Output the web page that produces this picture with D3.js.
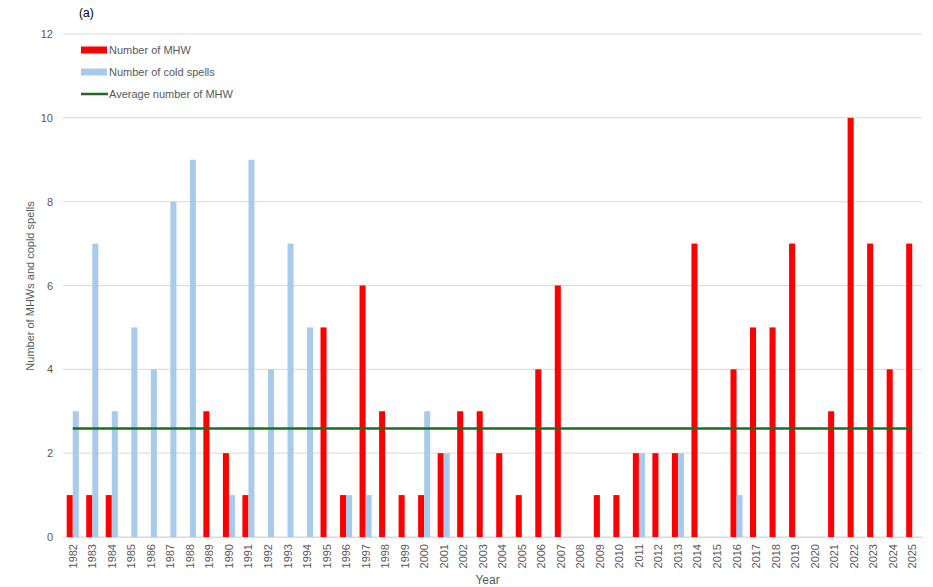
<!DOCTYPE html>
<html>
<head>
<meta charset="utf-8">
<script src="https://cdn.jsdelivr.net/npm/d3@7"></script>
<style>
  body { margin: 0; background: #fff; }
  svg { display: block; font-family: "Liberation Sans", Arial, sans-serif; }
</style>
</head>
<body>
<svg id="chart" width="933" height="587"></svg>
<script>
const years = ["1982","1983","1984","1985","1986","1987","1988","1989","1990","1991","1992","1993","1994","1995","1996","1997","1998","1999","2000","2001","2002","2003","2004","2005","2006","2007","2008","2009","2010","2011","2012","2013","2014","2015","2016","2017","2018","2019","2020","2021","2022","2023","2024","2025"];
const mhw  = [1,1,1,0,0,0,0,3,2,1,0,0,0,5,1,6,3,1,1,2,3,3,2,1,4,6,0,1,1,2,2,2,7,0,4,5,5,7,0,3,10,7,4,7];
const cold = [3,7,3,5,4,8,9,0,1,9,4,7,5,0,1,1,0,0,3,2,0,0,0,0,0,0,0,0,0,2,0,2,0,0,1,0,0,0,0,0,0,0,0,0];
const avgMHW = 2.59;
const yTicks = [0,2,4,6,8,10,12];
const seriesNames = ["Number of MHW","Number of cold spells","Average number of MHW"];

const svg = d3.select("#chart");
const margin = {left: 63, right: 11, top: 34, bottom: 50};
const W = 933, H = 587;
const x = d3.scaleBand().domain(years).range([margin.left, W - margin.right]).paddingInner(0.38).paddingOuter(0.19);
const x1 = d3.scaleBand().domain(["mhw","cold"]).range([0, x.bandwidth()]);
const y = d3.scaleLinear().domain([0,12]).range([H - margin.bottom, margin.top]);

const red = "#FF0000", blue = "#A9CBEB", green = "#1E6B24", textC = "#595959";

// gridlines
svg.append("g").selectAll("line").data(yTicks).join("line")
  .attr("x1", margin.left).attr("x2", W - margin.right)
  .attr("y1", d => y(d)).attr("y2", d => y(d))
  .attr("stroke", "#d9d9d9").attr("stroke-width", 1);

// y axis labels
const yAxis = d3.axisLeft(y).tickValues(yTicks).tickSize(0).tickPadding(10);
const ga = svg.append("g").attr("transform", `translate(${margin.left},0)`).call(yAxis);
ga.select(".domain").remove();
ga.selectAll("text").attr("fill", textC).style("font-size", "11px");

// bars
const g = svg.append("g");
g.selectAll("rect.mhw").data(years).join("rect").attr("class","mhw")
  .attr("x", d => x(d) + x1("mhw")).attr("width", x1.bandwidth())
  .attr("y", (d,i) => y(mhw[i])).attr("height", (d,i) => y(0) - y(mhw[i]))
  .attr("fill", red);
g.selectAll("rect.cold").data(years).join("rect").attr("class","cold")
  .attr("x", d => x(d) + x1("cold")).attr("width", x1.bandwidth())
  .attr("y", (d,i) => y(cold[i])).attr("height", (d,i) => y(0) - y(cold[i]))
  .attr("fill", blue);

// average line
const line = d3.line().x(d => x(d) + x.bandwidth()/2).y(() => y(avgMHW));
svg.append("path").datum(years).attr("d", line)
  .attr("fill","none").attr("stroke", green).attr("stroke-width", 2.5);

// x axis
const xAxis = d3.axisBottom(x).tickSize(0).tickPadding(0);
const gx = svg.append("g").attr("transform", `translate(0,${y(0)})`).call(xAxis);
gx.select(".domain").attr("stroke", "#d9d9d9");
gx.selectAll("text").attr("fill", textC).style("font-size", "11px")
  .attr("text-anchor", "end").attr("dy", null)
  .attr("transform", "translate(4,7) rotate(-90)")
  .attr("x", 0).attr("y", 0);

// axis titles
svg.append("text").attr("x", (margin.left + W - margin.right)/2 - 5).attr("y", 584)
  .attr("text-anchor","middle").attr("fill", textC).style("font-size","12px").text("Year");
svg.append("text").attr("transform", "translate(34,286) rotate(-90)")
  .attr("text-anchor","middle").attr("fill", textC).style("font-size","11px").text("Number of MHWs and copld spells");
svg.append("text").attr("x", 79).attr("y", 17).attr("fill", "#000").style("font-size","12px").text("(a)");

// legend
const leg = svg.append("g").attr("transform","translate(81,50)");
const legColors = [red, blue, green];
seriesNames.forEach((n, i) => {
  const row = leg.append("g").attr("transform", `translate(0,${i*22})`);
  if (i < 2) row.append("rect").attr("x",0).attr("y",-3.5).attr("width",26).attr("height",7).attr("fill", legColors[i]);
  else row.append("line").attr("x1",0).attr("x2",27).attr("y1",0).attr("y2",0).attr("stroke", green).attr("stroke-width",2.5);
  row.append("text").attr("x",28).attr("y",4).attr("fill", textC).style("font-size","11px").text(n);
});
</script>
</body>
</html>
